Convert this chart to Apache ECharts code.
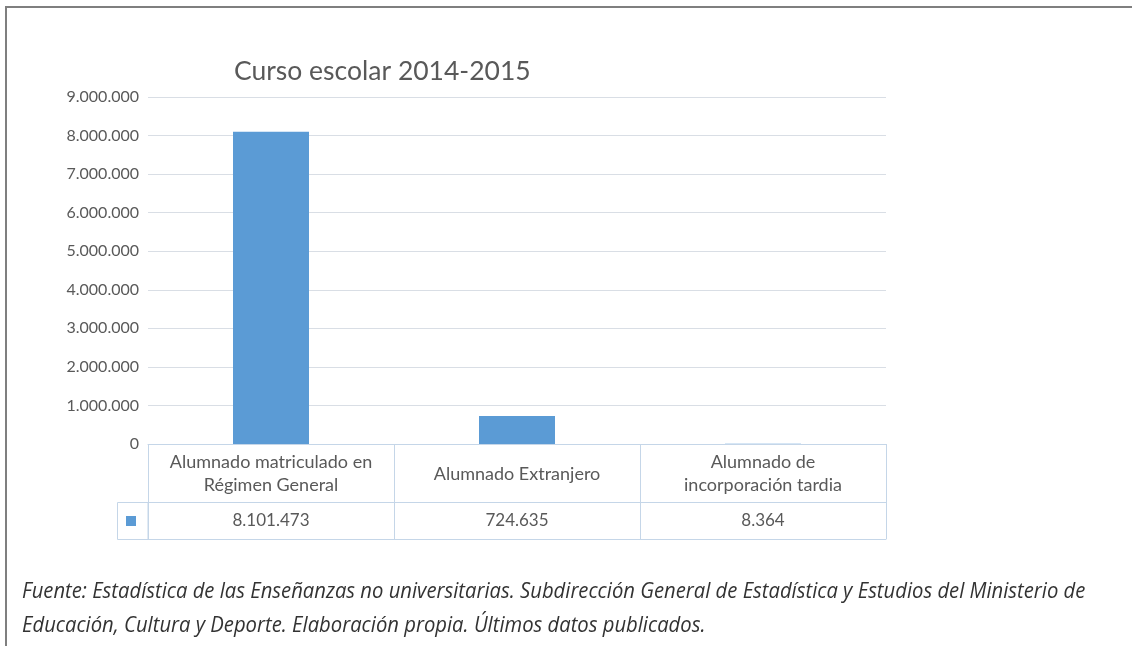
<!DOCTYPE html>
<html>
<head>
<meta charset="utf-8">
<script src="https://cdn.jsdelivr.net/npm/echarts@6/dist/echarts.min.js"></script>
<style>
html,body{margin:0;padding:0;background:#fff;}
#c{width:1132px;height:646px;}
</style>
</head>
<body>
<div id="c"></div>
<script>
var titleText = 'Curso escolar 2014-2015';
var categories = ['Alumnado matriculado en\nRégimen General', 'Alumnado Extranjero', 'Alumnado de\nincorporación tardia'];
var values = [8101473, 724635, 8364];
var yMin = 0, yMax = 9000000, yStep = 1000000;
var footLines = [
  'Fuente: Estadística de las Enseñanzas no universitarias. Subdirección General de Estadística y Estudios del Ministerio de',
  'Educación, Cultura y Deporte. Elaboración propia. Últimos datos publicados.'
];

function fmt(v){ return String(v).replace(/\B(?=(\d{3})+(?!\d))/g, '.'); }

var FONT = 'Lato, "Open Sans", sans-serif';
var TXT = '#595959';
var TBL = '#c5d6e8';

var chart = echarts.init(document.getElementById('c'), null, {renderer:'canvas'});
chart.setOption({
  animation:false,
  backgroundColor:'#fff',
  title:{text:titleText, left:229, top:53, textStyle:{fontFamily:FONT, fontSize:26.5, fontWeight:'normal', color:TXT}},
  legend:{data:['Serie'], left:126, top:516, itemWidth:10, itemHeight:10, icon:'rect', formatter:function(){return '';}, itemGap:0, padding:0, selectedMode:false},
  grid:{left:148, right:246, top:97, bottom:202, containLabel:false},
  xAxis:[
    {type:'category', data:categories, position:'bottom',
     axisLine:{lineStyle:{color:TBL, width:1}},
     axisTick:{show:true, length:95, interval:0, alignWithLabel:false, lineStyle:{color:TBL, width:1}},
     axisLabel:{interval:0, margin:30, verticalAlign:'middle', lineHeight:23, fontFamily:FONT, fontSize:18, color:TXT}},
    {type:'category', data:values.map(fmt), position:'bottom', offset:58,
     axisLine:{lineStyle:{color:TBL, width:1}}, axisTick:{show:false},
     axisLabel:{interval:0, margin:19, verticalAlign:'middle', fontFamily:FONT, fontSize:17, color:TXT}},
    {type:'category', data:values.map(fmt), position:'bottom', offset:95,
     axisLine:{lineStyle:{color:TBL, width:1}}, axisTick:{show:false}, axisLabel:{show:false}}
  ],
  yAxis:{type:'value', min:yMin, max:yMax, interval:yStep,
    axisLine:{show:false}, axisTick:{show:false},
    splitLine:{lineStyle:{color:'#d9dee5', width:1}},
    axisLabel:{margin:9, fontFamily:FONT, fontSize:16, color:TXT, formatter:function(v){return fmt(v);}}},
  series:[{name:'Serie', type:'bar', data:values, barWidth:76, itemStyle:{color:'#5b9bd5'}, xAxisIndex:0}],
  graphic:[
    {type:'rect', shape:{x:6, y:7, width:1200, height:700}, style:{fill:'none', stroke:'#7f7f7f', lineWidth:2}, silent:true},
    {type:'rect', shape:{x:117.5, y:502.5, width:30.5, height:37}, style:{fill:'none', stroke:TBL, lineWidth:1}, silent:true},
    {type:'text', x:22, y:575, scaleX:0.92, originX:0, originY:0, style:{text:footLines.join('\n'), font:'italic 22px "Open Sans", sans-serif', fill:'#333', lineHeight:34}, silent:true}
  ]
});
</script>
</body>
</html>
